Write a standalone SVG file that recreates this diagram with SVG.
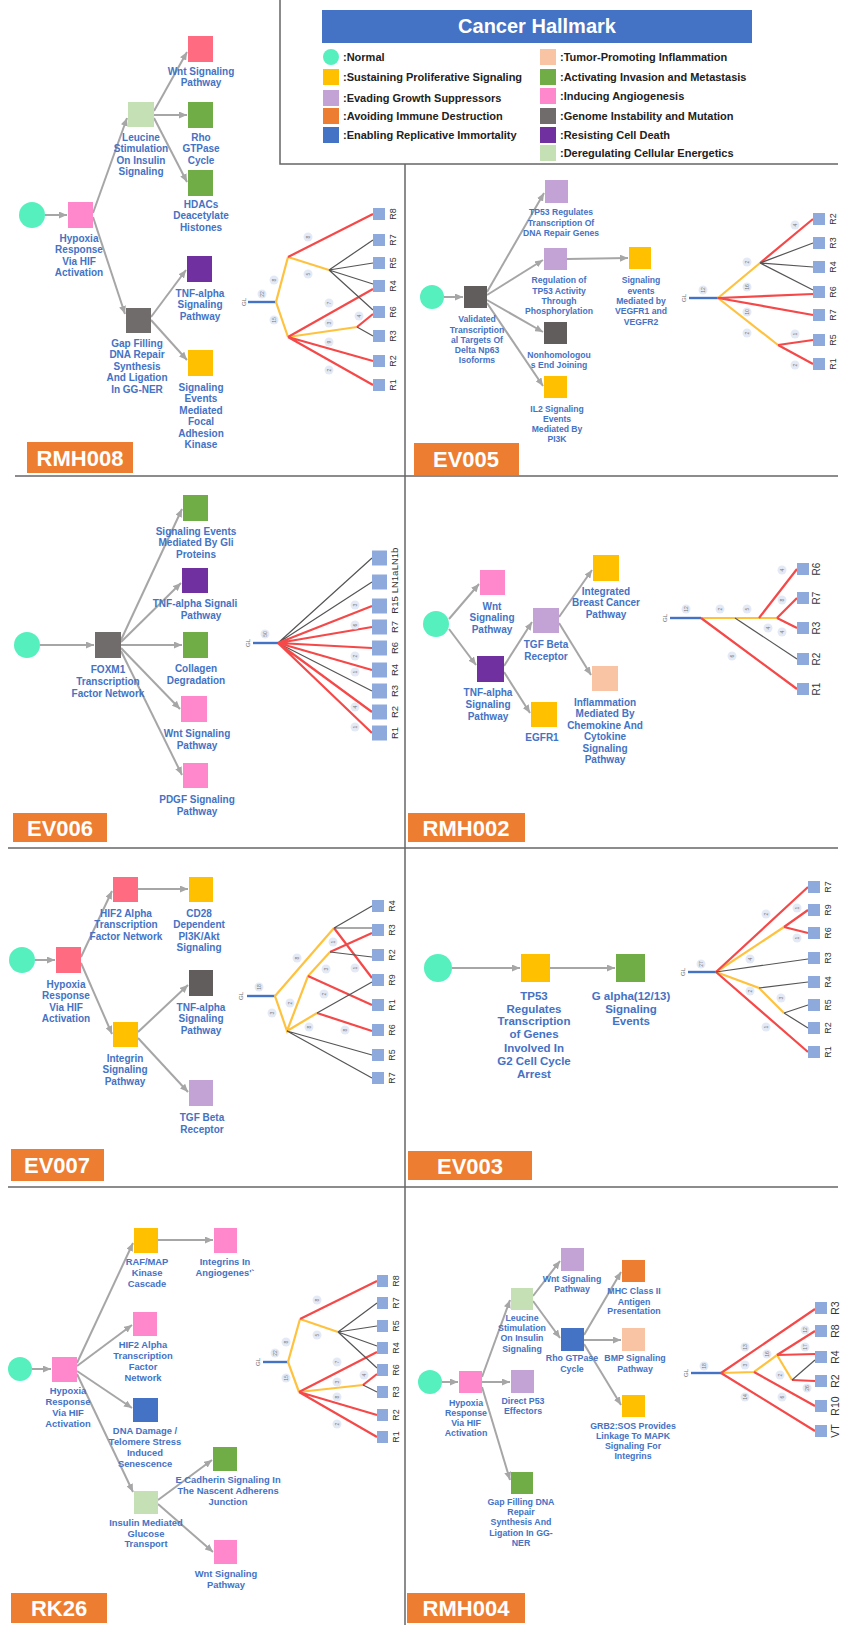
<svg xmlns="http://www.w3.org/2000/svg" width="842" height="1625" viewBox="0 0 842 1625">
<defs>
<marker id="ah" markerUnits="userSpaceOnUse" markerWidth="8" markerHeight="7" refX="8" refY="3.5" orient="auto"><path d="M0,0 L8,3.5 L0,7 z" fill="#A6A6A6"/></marker>
<style>
.frame{stroke:#666;stroke-width:1.5;fill:none}
.e{stroke:#A6A6A6;stroke-width:2;fill:none;marker-end:url(#ah)}
.lb{font-family:"Liberation Sans",Arial,sans-serif;font-weight:bold;fill:#4472C4;text-anchor:middle}
.f10{font-size:10px}.f9{font-size:9.4px}.f85{font-size:8.6px}.f88{font-size:8.8px}.f115{font-size:11.5px}
.tag rect{fill:#ED7D31}
.tag text{font-family:"Liberation Sans",Arial,sans-serif;font-weight:bold;font-size:22px;fill:#fff;text-anchor:middle}
.nrm{fill:#55F0BE}
.ang{fill:#FF88CC}.ang2{fill:#FF6B81}.sps{fill:#FFC000}.egs{fill:#C3A3D6}.aid{fill:#ED7D31}.rep{fill:#4472C4}
.tpi{fill:#F8C4A4}.inv{fill:#70AD47}.gen{fill:#716C6C}.gen2{fill:#625D5D}.rcd{fill:#7030A0}.dce{fill:#C5E0B4}
.r{stroke:#F54848;stroke-width:2.2;fill:none}
.o{stroke:#FFC23F;stroke-width:2.2;fill:none}
.g{stroke:#555;stroke-width:1.2;fill:none}
.bl{stroke:#4472C4;stroke-width:2.4;fill:none}
.bx{fill:#8EA9DB}
.rl{font-family:"Liberation Sans",Arial,sans-serif;font-size:9px;fill:#333;text-anchor:middle}
.gl{font-family:"Liberation Sans",Arial,sans-serif;font-size:6px;fill:#666;text-anchor:middle}
.bub circle{fill:#E3EAF6}
.bub text{font-family:"Liberation Sans",Arial,sans-serif;font-size:5px;fill:#777;text-anchor:middle}
.lg{font-family:"Liberation Sans",Arial,sans-serif;font-weight:bold;font-size:11px;fill:#222}
</style>
</defs>
<rect width="842" height="1625" fill="#fff"/>

<g id="frame">
<path class="frame" d="M280,0 V164 H838"/>
<path class="frame" d="M405,164 V1625"/>
<path class="frame" d="M15,476 H838"/>
<path class="frame" d="M8,848 H838"/>
<path class="frame" d="M8,1187 H838"/>
</g>

<g id="legend">
<rect x="322" y="10" width="430" height="33" fill="#4472C4"/>
<text x="537" y="33" font-family="Liberation Sans, Arial, sans-serif" font-weight="bold" font-size="20" fill="#fff" text-anchor="middle">Cancer Hallmark</text>
<circle class="nrm" cx="331" cy="57" r="8"/>
<rect class="sps" x="323" y="69" width="16" height="16"/>
<rect class="egs" x="323" y="90" width="16" height="16"/>
<rect class="aid" x="323" y="108" width="16" height="16"/>
<rect class="rep" x="323" y="127" width="16" height="16"/>
<text class="lg" x="343" y="61">:Normal</text>
<text class="lg" x="343" y="81">:Sustaining Proliferative Signaling</text>
<text class="lg" x="343" y="102">:Evading Growth Suppressors</text>
<text class="lg" x="343" y="120">:Avoiding Immune Destruction</text>
<text class="lg" x="343" y="139">:Enabling Replicative Immortality</text>
<rect class="tpi" x="540" y="49" width="16" height="16"/>
<rect class="inv" x="540" y="69" width="16" height="16"/>
<rect class="ang" x="540" y="88" width="16" height="16"/>
<rect class="gen" x="540" y="108" width="16" height="16"/>
<rect class="rcd" x="540" y="127" width="16" height="16"/>
<rect class="dce" x="540" y="145" width="16" height="16"/>
<text class="lg" x="560" y="61">:Tumor-Promoting Inflammation</text>
<text class="lg" x="560" y="81">:Activating Invasion and Metastasis</text>
<text class="lg" x="560" y="100">:Inducing Angiogenesis</text>
<text class="lg" x="560" y="120">:Genome Instability and Mutation</text>
<text class="lg" x="560" y="139">:Resisting Cell Death</text>
<text class="lg" x="560" y="157">:Deregulating Cellular Energetics</text>
</g>

<!-- ============ RMH008 ============ -->
<g id="p1">
<g id="p1-edges">
<line class="e" x1="45" y1="215" x2="67" y2="215"/>
<line class="e" x1="93" y1="213" x2="127" y2="118"/>
<line class="e" x1="93" y1="217" x2="125" y2="314"/>
<line class="e" x1="154" y1="111" x2="187" y2="52"/>
<line class="e" x1="154" y1="115" x2="187" y2="115"/>
<line class="e" x1="154" y1="118" x2="187" y2="182"/>
<line class="e" x1="151" y1="317" x2="186" y2="270"/>
<line class="e" x1="151" y1="320" x2="187" y2="360"/>
</g>
<g id="p1-normal"><circle class="nrm" cx="32" cy="215" r="13"/></g>
<g id="p1-hyp"><rect class="ang" x="68" y="202" width="25" height="26"/><text class="lb f10"><tspan x="79" y="241.5">Hypoxia</tspan><tspan x="79" y="253">Response</tspan><tspan x="79" y="264.5">Via HIF</tspan><tspan x="79" y="276">Activation</tspan></text></g>
<g id="p1-leu"><rect class="dce" x="128" y="102" width="26" height="25"/><text class="lb f10"><tspan x="141" y="140.5">Leucine</tspan><tspan x="141" y="152">Stimulation</tspan><tspan x="141" y="163.5">On Insulin</tspan><tspan x="141" y="175">Signaling</tspan></text></g>
<g id="p1-gap"><rect class="gen" x="126" y="308" width="25" height="25"/><text class="lb f10"><tspan x="137" y="346.5">Gap Filling</tspan><tspan x="137" y="358">DNA Repair</tspan><tspan x="137" y="369.5">Synthesis</tspan><tspan x="137" y="381">And Ligation</tspan><tspan x="137" y="392.5">In GG-NER</tspan></text></g>
<g id="p1-wnt"><rect class="ang2" x="188" y="36" width="25" height="26"/><text class="lb f10"><tspan x="201" y="74.5">Wnt Signaling</tspan><tspan x="201" y="86">Pathway</tspan></text></g>
<g id="p1-rho"><rect class="inv" x="188" y="102" width="25" height="26"/><text class="lb f10"><tspan x="201" y="140.5">Rho</tspan><tspan x="201" y="152">GTPase</tspan><tspan x="201" y="163.5">Cycle</tspan></text></g>
<g id="p1-hdac"><rect class="inv" x="188" y="170" width="25" height="26"/><text class="lb f10"><tspan x="201" y="207.5">HDACs</tspan><tspan x="201" y="219">Deacetylate</tspan><tspan x="201" y="230.5">Histones</tspan></text></g>
<g id="p1-tnf"><rect class="rcd" x="187" y="256" width="25" height="26"/><text class="lb f10"><tspan x="200" y="296.5">TNF-alpha</tspan><tspan x="200" y="308">Signaling</tspan><tspan x="200" y="319.5">Pathway</tspan></text></g>
<g id="p1-fak"><rect class="sps" x="188" y="350" width="25" height="26"/><text class="lb f10"><tspan x="201" y="390.5">Signaling</tspan><tspan x="201" y="402">Events</tspan><tspan x="201" y="413.5">Mediated</tspan><tspan x="201" y="425">Focal</tspan><tspan x="201" y="436.5">Adhesion</tspan><tspan x="201" y="448">Kinase</tspan></text></g>
<g id="p1-tag" class="tag"><rect x="27" y="442" width="106" height="31"/><text x="80" y="465.5">RMH008</text></g>
<g id="p1-tree">
<text class="gl" transform="translate(246,302) rotate(-90)">GL</text>
<line class="bl" x1="248" y1="302" x2="276" y2="302"/>
<path class="o" d="M288,257 L276,302 L288,337 M288,257 L329,270 M288,337 L357,327"/>
<path class="r" d="M288,257 L373,214 M288,337 L373,289 M357,327 L373,314 M288,337 L373,361 M288,337 L373,385"/>
<path class="g" d="M329,270 L373,240 M329,270 L373,263 M329,270 L373,284 M329,270 L373,310 M357,327 L373,336"/>
<g class="bx"><rect x="373" y="208" width="12" height="12"/><rect x="373" y="234" width="12" height="12"/><rect x="373" y="257" width="12" height="12"/><rect x="373" y="280" width="12" height="12"/><rect x="373" y="306" width="12" height="12"/><rect x="373" y="330" width="12" height="12"/><rect x="373" y="355" width="12" height="12"/><rect x="373" y="379" width="12" height="12"/></g>
<g class="rl"><text transform="translate(396,214) rotate(-90)">R8</text><text transform="translate(396,240) rotate(-90)">R7</text><text transform="translate(396,263) rotate(-90)">R5</text><text transform="translate(396,286) rotate(-90)">R4</text><text transform="translate(396,312) rotate(-90)">R6</text><text transform="translate(396,336) rotate(-90)">R3</text><text transform="translate(396,361) rotate(-90)">R2</text><text transform="translate(396,385) rotate(-90)">R1</text></g>
<g class="bub">
<circle cx="262" cy="294" r="4.5"/><text transform="translate(264,294) rotate(-90)">22</text>
<circle cx="274" cy="280" r="4.5"/><text transform="translate(276,280) rotate(-90)">8</text>
<circle cx="274" cy="320" r="4.5"/><text transform="translate(276,320) rotate(-90)">15</text>
<circle cx="308" cy="237" r="4.5"/><text transform="translate(310,237) rotate(-90)">8</text>
<circle cx="308" cy="274" r="4.5"/><text transform="translate(310,274) rotate(-90)">5</text>
<circle cx="329" cy="303" r="4.5"/><text transform="translate(331,303) rotate(-90)">7</text>
<circle cx="329" cy="323" r="4.5"/><text transform="translate(331,323) rotate(-90)">3</text>
<circle cx="329" cy="342" r="4.5"/><text transform="translate(331,342) rotate(-90)">9</text>
<circle cx="329" cy="370" r="4.5"/><text transform="translate(331,370) rotate(-90)">2</text>
<circle cx="359" cy="316" r="4.5"/><text transform="translate(361,316) rotate(-90)">4</text>
</g>
</g>
</g>

<!-- ============ EV005 ============ -->
<g id="p2">
<g id="p2-edges">
<line class="e" x1="444" y1="297" x2="463" y2="297"/>
<line class="e" x1="487" y1="292" x2="544" y2="193"/>
<line class="e" x1="487" y1="295" x2="543" y2="260"/>
<line class="e" x1="487" y1="300" x2="543" y2="332"/>
<line class="e" x1="487" y1="303" x2="543" y2="386"/>
<line class="e" x1="567" y1="259" x2="628" y2="258"/>
</g>
<g id="p2-normal"><circle class="nrm" cx="432" cy="297" r="12"/></g>
<g id="p2-val"><rect class="gen2" x="464" y="286" width="23" height="22"/><text class="lb f85"><tspan x="477" y="322">Validated</tspan><tspan x="477" y="332.5">Transcription</tspan><tspan x="477" y="342.5">al Targets Of</tspan><tspan x="477" y="353">Delta Np63</tspan><tspan x="477" y="363">Isoforms</tspan></text></g>
<g id="p2-tp53dna"><rect class="egs" x="545" y="180" width="23" height="23"/><text class="lb f85"><tspan x="561" y="215">TP53 Regulates</tspan><tspan x="561" y="225.5">Transcription Of</tspan><tspan x="561" y="236">DNA Repair Genes</tspan></text></g>
<g id="p2-reg"><rect class="egs" x="544" y="248" width="23" height="22"/><text class="lb f85"><tspan x="559" y="283">Regulation of</tspan><tspan x="559" y="293.5">TP53 Activity</tspan><tspan x="559" y="303.5">Through</tspan><tspan x="559" y="314">Phosphorylation</tspan></text></g>
<g id="p2-vegf"><rect class="sps" x="629" y="247" width="22" height="22"/><text class="lb f85"><tspan x="641" y="283">Signaling</tspan><tspan x="641" y="293.5">events</tspan><tspan x="641" y="303.5">Mediated by</tspan><tspan x="641" y="314">VEGFR1 and</tspan><tspan x="641" y="324.5">VEGFR2</tspan></text></g>
<g id="p2-nhej"><rect class="gen2" x="544" y="322" width="23" height="22"/><text class="lb f85"><tspan x="559" y="358">Nonhomologou</tspan><tspan x="559" y="368">s End Joining</tspan></text></g>
<g id="p2-il2"><rect class="sps" x="544" y="376" width="23" height="22"/><text class="lb f85"><tspan x="557" y="412">IL2 Signaling</tspan><tspan x="557" y="422">Events</tspan><tspan x="557" y="432">Mediated By</tspan><tspan x="557" y="442">PI3K</tspan></text></g>
<g id="p2-tag" class="tag"><rect x="414" y="443" width="105" height="32"/><text x="466" y="467">EV005</text></g>
<g id="p2-tree">
<text class="gl" transform="translate(686,298) rotate(-90)">GL</text>
<line class="bl" x1="689" y1="298" x2="718" y2="298"/>
<path class="o" d="M718,298 L760,263 M718,298 L778,345"/>
<path class="r" d="M718,298 L813,294 M718,298 L813,315 M760,263 L813,219 M778,345 L813,340 M778,345 L813,364"/>
<path class="g" d="M760,263 L813,243 M760,263 L813,267 M760,263 L813,290"/>
<g class="bx"><rect x="813" y="213" width="12" height="12"/><rect x="813" y="237" width="12" height="12"/><rect x="813" y="261" width="12" height="12"/><rect x="813" y="286" width="12" height="12"/><rect x="813" y="309" width="12" height="12"/><rect x="813" y="334" width="12" height="12"/><rect x="813" y="358" width="12" height="12"/></g>
<g class="rl"><text transform="translate(836,219) rotate(-90)">R2</text><text transform="translate(836,243) rotate(-90)">R3</text><text transform="translate(836,267) rotate(-90)">R4</text><text transform="translate(836,292) rotate(-90)">R6</text><text transform="translate(836,315) rotate(-90)">R7</text><text transform="translate(836,340) rotate(-90)">R5</text><text transform="translate(836,364) rotate(-90)">R1</text></g>
<g class="bub">
<circle cx="703" cy="290" r="4.5"/><text transform="translate(705,290) rotate(-90)">12</text>
<circle cx="795" cy="225" r="4.5"/><text transform="translate(797,225) rotate(-90)">4</text>
<circle cx="747" cy="262" r="4.5"/><text transform="translate(749,262) rotate(-90)">2</text>
<circle cx="747" cy="287" r="4.5"/><text transform="translate(749,287) rotate(-90)">16</text>
<circle cx="747" cy="312" r="4.5"/><text transform="translate(749,312) rotate(-90)">10</text>
<circle cx="747" cy="333" r="4.5"/><text transform="translate(749,333) rotate(-90)">2</text>
<circle cx="795" cy="334" r="4.5"/><text transform="translate(797,334) rotate(-90)">1</text>
<circle cx="795" cy="365" r="4.5"/><text transform="translate(797,365) rotate(-90)">2</text>
</g>
</g>
</g>

<!-- ============ EV006 ============ -->
<g id="p3">
<g id="p3-edges">
<line class="e" x1="40" y1="645" x2="94" y2="645"/>
<line class="e" x1="121" y1="640" x2="182" y2="509"/>
<line class="e" x1="121" y1="642" x2="181" y2="583"/>
<line class="e" x1="121" y1="645" x2="182" y2="645"/>
<line class="e" x1="121" y1="648" x2="180" y2="709"/>
<line class="e" x1="121" y1="651" x2="182" y2="775"/>
</g>
<g id="p3-normal"><circle class="nrm" cx="27" cy="645" r="13"/></g>
<g id="p3-foxm1"><rect class="gen" x="95" y="632" width="26" height="26"/><text class="lb f10"><tspan x="108" y="672.5">FOXM1</tspan><tspan x="108" y="684.5">Transcription</tspan><tspan x="108" y="696.5">Factor Network</tspan></text></g>
<g id="p3-gli"><rect class="inv" x="183" y="495" width="25" height="26"/><text class="lb f10"><tspan x="196" y="534.5">Signaling Events</tspan><tspan x="196" y="546">Mediated By Gli</tspan><tspan x="196" y="557.5">Proteins</tspan></text></g>
<g id="p3-tnf"><rect class="rcd" x="182" y="568" width="26" height="25"/><text class="lb f10"><tspan x="195" y="606.5">TNF-alpha Signali</tspan><tspan x="201" y="618.5">Pathway</tspan></text></g>
<g id="p3-coll"><rect class="inv" x="183" y="632" width="25" height="26"/><text class="lb f10"><tspan x="196" y="671.5">Collagen</tspan><tspan x="196" y="683.5">Degradation</tspan></text></g>
<g id="p3-wnt"><rect class="ang" x="181" y="696" width="26" height="26"/><text class="lb f10"><tspan x="197" y="736.5">Wnt Signaling</tspan><tspan x="197" y="748.5">Pathway</tspan></text></g>
<g id="p3-pdgf"><rect class="ang" x="183" y="763" width="25" height="25"/><text class="lb f10"><tspan x="197" y="802.5">PDGF Signaling</tspan><tspan x="197" y="814.5">Pathway</tspan></text></g>
<g id="p3-tag" class="tag"><rect x="13" y="813" width="94" height="29"/><text x="60" y="835.5">EV006</text></g>
<g id="p3-tree">
<text class="gl" transform="translate(250,643) rotate(-90)">GL</text>
<line class="bl" x1="253" y1="643" x2="278" y2="643"/>
<path class="g" d="M278,643 L372,558 M278,643 L372,582 M278,643 L372,691"/>
<path class="r" d="M278,643 L372,606 M278,643 L372,627 M278,643 L372,648 M278,643 L372,670 M278,643 L372,712 M278,643 L372,733"/>
<g class="bx"><rect x="372" y="550.5" width="15" height="15"/><rect x="372" y="574.5" width="15" height="15"/><rect x="372" y="598.5" width="15" height="15"/><rect x="372" y="619.5" width="15" height="15"/><rect x="372" y="640.5" width="15" height="15"/><rect x="372" y="662.5" width="15" height="15"/><rect x="372" y="683.5" width="15" height="15"/><rect x="372" y="704.5" width="15" height="15"/><rect x="372" y="725.5" width="15" height="15"/></g>
<g class="rl" style="font-size:9.5px"><text transform="translate(398,559) rotate(-90)">LN1b</text><text transform="translate(398,582) rotate(-90)">LN1a</text><text transform="translate(398,605) rotate(-90)">R15</text><text transform="translate(398,627) rotate(-90)">R7</text><text transform="translate(398,648) rotate(-90)">R6</text><text transform="translate(398,670) rotate(-90)">R4</text><text transform="translate(398,691) rotate(-90)">R3</text><text transform="translate(398,712) rotate(-90)">R2</text><text transform="translate(398,733) rotate(-90)">R1</text></g>
<g class="bub">
<circle cx="265" cy="634" r="4.5"/><text transform="translate(267,634) rotate(-90)">50</text>
<circle cx="355" cy="605" r="4.5"/><text transform="translate(357,605) rotate(-90)">3</text>
<circle cx="355" cy="625" r="4.5"/><text transform="translate(357,625) rotate(-90)">6</text>
<circle cx="355" cy="656" r="4.5"/><text transform="translate(357,656) rotate(-90)">2</text>
<circle cx="355" cy="672" r="4.5"/><text transform="translate(357,672) rotate(-90)">1</text>
<circle cx="355" cy="707" r="4.5"/><text transform="translate(357,707) rotate(-90)">4</text>
<circle cx="355" cy="727" r="4.5"/><text transform="translate(357,727) rotate(-90)">1</text>
</g>
</g>
</g>

<!-- ============ RMH002 ============ -->
<g id="p4">
<g id="p4-edges">
<line class="e" x1="449" y1="619" x2="479" y2="584"/>
<line class="e" x1="449" y1="629" x2="476" y2="665"/>
<line class="e" x1="504" y1="666" x2="532" y2="622"/>
<line class="e" x1="504" y1="672" x2="530" y2="713"/>
<line class="e" x1="559" y1="617" x2="592" y2="570"/>
<line class="e" x1="559" y1="623" x2="591" y2="675"/>
</g>
<g id="p4-normal"><circle class="nrm" cx="436" cy="624" r="13"/></g>
<g id="p4-wnt"><rect class="ang" x="480" y="570" width="25" height="25"/><text class="lb f10"><tspan x="492" y="609.5">Wnt</tspan><tspan x="492" y="621">Signaling</tspan><tspan x="492" y="632.5">Pathway</tspan></text></g>
<g id="p4-tnf"><rect class="rcd" x="477" y="656" width="27" height="26"/><text class="lb f10"><tspan x="488" y="695.5">TNF-alpha</tspan><tspan x="488" y="707.5">Signaling</tspan><tspan x="488" y="719.5">Pathway</tspan></text></g>
<g id="p4-tgf"><rect class="egs" x="533" y="608" width="26" height="25"/><text class="lb f10"><tspan x="546" y="647.5">TGF Beta</tspan><tspan x="546" y="659.5">Receptor</tspan></text></g>
<g id="p4-egfr"><rect class="sps" x="531" y="702" width="26" height="25"/><text class="lb f10"><tspan x="542" y="740.5">EGFR1</tspan></text></g>
<g id="p4-ibc"><rect class="sps" x="593" y="555" width="26" height="26"/><text class="lb f10"><tspan x="606" y="594.5">Integrated</tspan><tspan x="606" y="606">Breast Cancer</tspan><tspan x="606" y="617.5">Pathway</tspan></text></g>
<g id="p4-infl"><rect class="tpi" x="592" y="666" width="26" height="25"/><text class="lb f10"><tspan x="605" y="705.5">Inflammation</tspan><tspan x="605" y="717">Mediated By</tspan><tspan x="605" y="728.5">Chemokine And</tspan><tspan x="605" y="740">Cytokine</tspan><tspan x="605" y="751.5">Signaling</tspan><tspan x="605" y="763">Pathway</tspan></text></g>
<g id="p4-tag" class="tag"><rect x="408" y="813" width="117" height="29"/><text x="466" y="835.5">RMH002</text></g>
<g id="p4-tree">
<text class="gl" transform="translate(667,618) rotate(-90)">GL</text>
<line class="bl" x1="670" y1="618" x2="701" y2="618"/>
<path class="o" d="M701,618 L777,618"/>
<path class="r" d="M701,618 L797,689 M759,618 L797,569 M777,618 L797,598 M777,618 L797,628"/>
<path class="g" d="M735,618 L797,659"/>
<g class="bx"><rect x="797" y="563" width="12" height="12"/><rect x="797" y="592" width="12" height="12"/><rect x="797" y="622" width="12" height="12"/><rect x="797" y="653" width="12" height="12"/><rect x="797" y="683" width="12" height="12"/></g>
<g class="rl" style="font-size:10px"><text transform="translate(820,569) rotate(-90)">R6</text><text transform="translate(820,598) rotate(-90)">R7</text><text transform="translate(820,628) rotate(-90)">R3</text><text transform="translate(820,659) rotate(-90)">R2</text><text transform="translate(820,689) rotate(-90)">R1</text></g>
<g class="bub">
<circle cx="686" cy="609" r="4.5"/><text transform="translate(688,609) rotate(-90)">12</text>
<circle cx="720" cy="609" r="4.5"/><text transform="translate(722,609) rotate(-90)">2</text>
<circle cx="747" cy="609" r="4.5"/><text transform="translate(749,609) rotate(-90)">5</text>
<circle cx="732" cy="656" r="4.5"/><text transform="translate(734,656) rotate(-90)">6</text>
<circle cx="782" cy="570" r="4.5"/><text transform="translate(784,570) rotate(-90)">4</text>
<circle cx="782" cy="600" r="4.5"/><text transform="translate(784,600) rotate(-90)">8</text>
<circle cx="768" cy="628" r="4.5"/><text transform="translate(770,628) rotate(-90)">4</text>
<circle cx="782" cy="632" r="4.5"/><text transform="translate(784,632) rotate(-90)">4</text>
</g>
</g>
</g>

<!-- ============ EV007 ============ -->
<g id="p5">
<g id="p5-edges">
<line class="e" x1="35" y1="960" x2="55" y2="960"/>
<line class="e" x1="81" y1="957" x2="112" y2="891"/>
<line class="e" x1="81" y1="963" x2="112" y2="1034"/>
<line class="e" x1="138" y1="889" x2="188" y2="889"/>
<line class="e" x1="138" y1="1032" x2="188" y2="985"/>
<line class="e" x1="138" y1="1038" x2="188" y2="1092"/>
</g>
<g id="p5-normal"><circle class="nrm" cx="22" cy="960" r="13"/></g>
<g id="p5-hyp"><rect class="ang2" x="56" y="947" width="25" height="26"/><text class="lb f10"><tspan x="66" y="987.5">Hypoxia</tspan><tspan x="66" y="999">Response</tspan><tspan x="66" y="1010.5">Via HIF</tspan><tspan x="66" y="1022">Activation</tspan></text></g>
<g id="p5-hif2"><rect class="ang2" x="113" y="877" width="25" height="25"/><text class="lb f10"><tspan x="126" y="916.5">HIF2 Alpha</tspan><tspan x="126" y="928">Transcription</tspan><tspan x="126" y="939.5">Factor Network</tspan></text></g>
<g id="p5-cd28"><rect class="sps" x="189" y="877" width="24" height="25"/><text class="lb f10"><tspan x="199" y="916.5">CD28</tspan><tspan x="199" y="928">Dependent</tspan><tspan x="199" y="939.5">PI3K/Akt</tspan><tspan x="199" y="951">Signaling</tspan></text></g>
<g id="p5-integ"><rect class="sps" x="113" y="1022" width="25" height="25"/><text class="lb f10"><tspan x="125" y="1061.5">Integrin</tspan><tspan x="125" y="1073">Signaling</tspan><tspan x="125" y="1084.5">Pathway</tspan></text></g>
<g id="p5-tnf"><rect class="gen2" x="189" y="970" width="24" height="26"/><text class="lb f10"><tspan x="201" y="1010.5">TNF-alpha</tspan><tspan x="201" y="1022">Signaling</tspan><tspan x="201" y="1033.5">Pathway</tspan></text></g>
<g id="p5-tgf"><rect class="egs" x="189" y="1080" width="24" height="26"/><text class="lb f10"><tspan x="202" y="1120.5">TGF Beta</tspan><tspan x="202" y="1132.5">Receptor</tspan></text></g>
<g id="p5-tag" class="tag"><rect x="11" y="1149" width="93" height="32"/><text x="57" y="1173">EV007</text></g>
<g id="p5-tree">
<text class="gl" transform="translate(243,996) rotate(-90)">GL</text>
<line class="bl" x1="247" y1="996" x2="275" y2="996"/>
<path class="o" d="M334,928 L275,996 L287,1031 L308,976 L330,952 M287,1031 L317,1013"/>
<path class="r" d="M334,928 L372,978 M308,976 L372,1005 M330,952 L372,933 M317,1013 L372,1031"/>
<path class="g" d="M334,928 L372,906 M334,928 L372,928 M287,1031 L372,1055 M287,1031 L372,1078 M330,952 L372,957 M317,1013 L372,982"/>
<g class="bx"><rect x="372" y="900" width="12" height="12"/><rect x="372" y="924" width="12" height="12"/><rect x="372" y="949" width="12" height="12"/><rect x="372" y="974" width="12" height="12"/><rect x="372" y="999" width="12" height="12"/><rect x="372" y="1024" width="12" height="12"/><rect x="372" y="1049" width="12" height="12"/><rect x="372" y="1072" width="12" height="12"/></g>
<g class="rl"><text transform="translate(395,906) rotate(-90)">R4</text><text transform="translate(395,930) rotate(-90)">R3</text><text transform="translate(395,955) rotate(-90)">R2</text><text transform="translate(395,980) rotate(-90)">R9</text><text transform="translate(395,1005) rotate(-90)">R1</text><text transform="translate(395,1030) rotate(-90)">R6</text><text transform="translate(395,1055) rotate(-90)">R5</text><text transform="translate(395,1078) rotate(-90)">R7</text></g>
<g class="bub">
<circle cx="259" cy="987" r="4.5"/><text transform="translate(261,987) rotate(-90)">18</text>
<circle cx="297" cy="958" r="4.5"/><text transform="translate(299,958) rotate(-90)">8</text>
<circle cx="333" cy="942" r="4.5"/><text transform="translate(335,942) rotate(-90)">1</text>
<circle cx="326" cy="969" r="4.5"/><text transform="translate(328,969) rotate(-90)">3</text>
<circle cx="355" cy="968" r="4.5"/><text transform="translate(357,968) rotate(-90)">1</text>
<circle cx="290" cy="1003" r="4.5"/><text transform="translate(292,1003) rotate(-90)">2</text>
<circle cx="272" cy="1013" r="4.5"/><text transform="translate(274,1013) rotate(-90)">3</text>
<circle cx="324" cy="994" r="4.5"/><text transform="translate(326,994) rotate(-90)">2</text>
<circle cx="309" cy="1027" r="4.5"/><text transform="translate(311,1027) rotate(-90)">8</text>
<circle cx="345" cy="1030" r="4.5"/><text transform="translate(347,1030) rotate(-90)">8</text>
</g>
</g>
</g>

<!-- ============ EV003 ============ -->
<g id="p6">
<g id="p6-edges">
<line class="e" x1="452" y1="968" x2="520" y2="968"/>
<line class="e" x1="550" y1="968" x2="615" y2="968"/>
</g>
<g id="p6-normal"><circle class="nrm" cx="438" cy="968" r="14"/></g>
<g id="p6-tp53"><rect class="sps" x="521" y="954" width="29" height="28"/><text class="lb f115"><tspan x="534" y="1000">TP53</tspan><tspan x="534" y="1013">Regulates</tspan><tspan x="534" y="1025">Transcription</tspan><tspan x="534" y="1038">of Genes</tspan><tspan x="534" y="1052">Involved In</tspan><tspan x="534" y="1065">G2 Cell Cycle</tspan><tspan x="534" y="1078">Arrest</tspan></text></g>
<g id="p6-galpha"><rect class="inv" x="616" y="954" width="29" height="28"/><text class="lb f115"><tspan x="631" y="1000">G alpha(12/13)</tspan><tspan x="631" y="1013">Signaling</tspan><tspan x="631" y="1025">Events</tspan></text></g>
<g id="p6-tag" class="tag"><rect x="408" y="1151" width="124" height="29"/><text x="470" y="1173.5">EV003</text></g>
<g id="p6-tree">
<text class="gl" transform="translate(685,972) rotate(-90)">GL</text>
<line class="bl" x1="688" y1="972" x2="716" y2="972"/>
<path class="o" d="M716,972 L784,927 M716,972 L759,988 L784,1013"/>
<path class="r" d="M716,972 L808,887 M716,972 L808,1052 M784,927 L808,910 M784,927 L808,933"/>
<path class="g" d="M716,972 L808,959 M759,988 L808,982 M784,1013 L808,1005 M784,1013 L808,1028"/>
<g class="bx"><rect x="808" y="881" width="12" height="12"/><rect x="808" y="904" width="12" height="12"/><rect x="808" y="927" width="12" height="12"/><rect x="808" y="952" width="12" height="12"/><rect x="808" y="976" width="12" height="12"/><rect x="808" y="999" width="12" height="12"/><rect x="808" y="1022" width="12" height="12"/><rect x="808" y="1046" width="12" height="12"/></g>
<g class="rl"><text transform="translate(831,887) rotate(-90)">R7</text><text transform="translate(831,910) rotate(-90)">R9</text><text transform="translate(831,933) rotate(-90)">R6</text><text transform="translate(831,958) rotate(-90)">R3</text><text transform="translate(831,982) rotate(-90)">R4</text><text transform="translate(831,1005) rotate(-90)">R5</text><text transform="translate(831,1028) rotate(-90)">R2</text><text transform="translate(831,1052) rotate(-90)">R1</text></g>
<g class="bub">
<circle cx="701" cy="964" r="4.5"/><text transform="translate(703,964) rotate(-90)">27</text>
<circle cx="766" cy="914" r="4.5"/><text transform="translate(768,914) rotate(-90)">2</text>
<circle cx="797" cy="908" r="4.5"/><text transform="translate(799,908) rotate(-90)">1</text>
<circle cx="797" cy="938" r="4.5"/><text transform="translate(799,938) rotate(-90)">1</text>
<circle cx="750" cy="959" r="4.5"/><text transform="translate(752,959) rotate(-90)">4</text>
<circle cx="750" cy="991" r="4.5"/><text transform="translate(752,991) rotate(-90)">2</text>
<circle cx="781" cy="998" r="4.5"/><text transform="translate(783,998) rotate(-90)">3</text>
<circle cx="766" cy="1027" r="4.5"/><text transform="translate(768,1027) rotate(-90)">1</text>
</g>
</g>
</g>

<!-- ============ RK26 ============ -->
<g id="p7">
<g id="p7-edges">
<line class="e" x1="32" y1="1369" x2="51" y2="1369"/>
<line class="e" x1="77" y1="1363" x2="133" y2="1243"/>
<line class="e" x1="77" y1="1366" x2="132" y2="1325"/>
<line class="e" x1="77" y1="1371" x2="132" y2="1408"/>
<line class="e" x1="77" y1="1374" x2="133" y2="1492"/>
<line class="e" x1="158" y1="1240" x2="213" y2="1240"/>
<line class="e" x1="158" y1="1500" x2="212" y2="1460"/>
<line class="e" x1="158" y1="1504" x2="213" y2="1552"/>
</g>
<g id="p7-normal"><circle class="nrm" cx="20" cy="1369" r="12"/></g>
<g id="p7-hyp"><rect class="ang" x="52" y="1357" width="25" height="25"/><text class="lb f9"><tspan x="68" y="1393.5">Hypoxia</tspan><tspan x="68" y="1404.5">Response</tspan><tspan x="68" y="1415.5">Via HIF</tspan><tspan x="68" y="1426.5">Activation</tspan></text></g>
<g id="p7-raf"><rect class="sps" x="134" y="1228" width="24" height="25"/><text class="lb f9"><tspan x="147" y="1264.5">RAF/MAP</tspan><tspan x="147" y="1276">Kinase</tspan><tspan x="147" y="1286.5">Cascade</tspan></text></g>
<g id="p7-integ"><rect class="ang" x="214" y="1228" width="23" height="25"/><text class="lb f9"><tspan x="225" y="1264.5">Integrins In</tspan><tspan x="225" y="1275.5">Angiogenes'`</tspan></text></g>
<g id="p7-hif2"><rect class="ang" x="133" y="1312" width="24" height="24"/><text class="lb f9"><tspan x="143" y="1347.5">HIF2 Alpha</tspan><tspan x="143" y="1358.5">Transcription</tspan><tspan x="143" y="1369.5">Factor</tspan><tspan x="143" y="1380.5">Network</tspan></text></g>
<g id="p7-dna"><rect class="rep" x="133" y="1398" width="25" height="24"/><text class="lb f9"><tspan x="145" y="1433.5">DNA Damage /</tspan><tspan x="145" y="1445">Telomere Stress</tspan><tspan x="145" y="1455.5">Induced</tspan><tspan x="145" y="1466.5">Senescence</tspan></text></g>
<g id="p7-ecad"><rect class="inv" x="213" y="1447" width="24" height="24"/><text class="lb f9"><tspan x="228" y="1482.5">E Cadherin Signaling In</tspan><tspan x="228" y="1493.5">The Nascent Adherens</tspan><tspan x="228" y="1504.5">Junction</tspan></text></g>
<g id="p7-ins"><rect class="dce" x="134" y="1491" width="24" height="23"/><text class="lb f9"><tspan x="146" y="1525.5">Insulin Mediated</tspan><tspan x="146" y="1536.5">Glucose</tspan><tspan x="146" y="1546.5">Transport</tspan></text></g>
<g id="p7-wnt"><rect class="ang" x="214" y="1540" width="23" height="24"/><text class="lb f9"><tspan x="226" y="1576.5">Wnt Signaling</tspan><tspan x="226" y="1587.5">Pathway</tspan></text></g>
<g id="p7-tag" class="tag"><rect x="11" y="1593" width="96" height="30"/><text x="59" y="1616">RK26</text></g>
<g id="p7-tree">
<text class="gl" transform="translate(260,1362) rotate(-90)">GL</text>
<line class="bl" x1="263" y1="1362" x2="288" y2="1362"/>
<path class="o" d="M300,1319 L288,1362 L299,1392 M300,1319 L338,1332 M299,1392 L363,1385"/>
<path class="r" d="M300,1319 L377,1281 M299,1392 L377,1352 M299,1392 L377,1415 M299,1392 L377,1437 M363,1385 L377,1374"/>
<path class="g" d="M338,1332 L377,1303 M338,1332 L377,1326 M338,1332 L377,1346 M338,1332 L377,1368 M363,1385 L377,1392"/>
<g class="bx"><rect x="377" y="1275" width="11" height="12"/><rect x="377" y="1297" width="11" height="12"/><rect x="377" y="1320" width="11" height="12"/><rect x="377" y="1342" width="11" height="12"/><rect x="377" y="1364" width="11" height="12"/><rect x="377" y="1386" width="11" height="12"/><rect x="377" y="1409" width="11" height="12"/><rect x="377" y="1431" width="11" height="12"/></g>
<g class="rl"><text transform="translate(399,1281) rotate(-90)">R8</text><text transform="translate(399,1303) rotate(-90)">R7</text><text transform="translate(399,1326) rotate(-90)">R5</text><text transform="translate(399,1348) rotate(-90)">R4</text><text transform="translate(399,1370) rotate(-90)">R6</text><text transform="translate(399,1392) rotate(-90)">R3</text><text transform="translate(399,1415) rotate(-90)">R2</text><text transform="translate(399,1437) rotate(-90)">R1</text></g>
<g class="bub">
<circle cx="275" cy="1353" r="4.5"/><text transform="translate(277,1353) rotate(-90)">22</text>
<circle cx="317" cy="1300" r="4.5"/><text transform="translate(319,1300) rotate(-90)">8</text>
<circle cx="317" cy="1335" r="4.5"/><text transform="translate(319,1335) rotate(-90)">5</text>
<circle cx="286" cy="1342" r="4.5"/><text transform="translate(288,1342) rotate(-90)">8</text>
<circle cx="286" cy="1378" r="4.5"/><text transform="translate(288,1378) rotate(-90)">15</text>
<circle cx="337" cy="1362" r="4.5"/><text transform="translate(339,1362) rotate(-90)">7</text>
<circle cx="337" cy="1382" r="4.5"/><text transform="translate(339,1382) rotate(-90)">3</text>
<circle cx="337" cy="1397" r="4.5"/><text transform="translate(339,1397) rotate(-90)">8</text>
<circle cx="337" cy="1424" r="4.5"/><text transform="translate(339,1424) rotate(-90)">2</text>
<circle cx="364" cy="1375" r="4.5"/><text transform="translate(366,1375) rotate(-90)">4</text>
</g>
</g>
</g>

<!-- ============ RMH004 ============ -->
<g id="p8">
<g id="p8-edges">
<line class="e" x1="442" y1="1382" x2="458" y2="1382"/>
<line class="e" x1="482" y1="1377" x2="510" y2="1300"/>
<line class="e" x1="482" y1="1382" x2="510" y2="1382"/>
<line class="e" x1="482" y1="1387" x2="510" y2="1480"/>
<line class="e" x1="533" y1="1296" x2="560" y2="1261"/>
<line class="e" x1="533" y1="1301" x2="560" y2="1338"/>
<line class="e" x1="584" y1="1335" x2="621" y2="1272"/>
<line class="e" x1="584" y1="1340" x2="621" y2="1340"/>
<line class="e" x1="584" y1="1344" x2="621" y2="1405"/>
</g>
<g id="p8-normal"><circle class="nrm" cx="430" cy="1382" r="12"/></g>
<g id="p8-hyp"><rect class="ang" x="459" y="1371" width="23" height="22"/><text class="lb f88"><tspan x="466" y="1406">Hypoxia</tspan><tspan x="466" y="1416">Response</tspan><tspan x="466" y="1426">Via HIF</tspan><tspan x="466" y="1436">Activation</tspan></text></g>
<g id="p8-leu"><rect class="dce" x="511" y="1288" width="22" height="22"/><text class="lb f88"><tspan x="522" y="1321">Leucine</tspan><tspan x="522" y="1331">Stimulation</tspan><tspan x="522" y="1341">On Insulin</tspan><tspan x="522" y="1352">Signaling</tspan></text></g>
<g id="p8-dp53"><rect class="egs" x="511" y="1370" width="23" height="23"/><text class="lb f88"><tspan x="523" y="1404">Direct P53</tspan><tspan x="523" y="1414">Effectors</tspan></text></g>
<g id="p8-gap"><rect class="inv" x="511" y="1472" width="22" height="22"/><text class="lb f88"><tspan x="521" y="1505">Gap Filling DNA</tspan><tspan x="521" y="1515">Repair</tspan><tspan x="521" y="1525">Synthesis And</tspan><tspan x="521" y="1536">Ligation In GG-</tspan><tspan x="521" y="1546">NER</tspan></text></g>
<g id="p8-wnt"><rect class="egs" x="561" y="1248" width="23" height="23"/><text class="lb f88"><tspan x="572" y="1282">Wnt Signaling</tspan><tspan x="572" y="1292">Pathway</tspan></text></g>
<g id="p8-rho"><rect class="rep" x="561" y="1328" width="23" height="23"/><text class="lb f88"><tspan x="572" y="1361">Rho GTPase</tspan><tspan x="572" y="1372">Cycle</tspan></text></g>
<g id="p8-mhc"><rect class="aid" x="622" y="1260" width="23" height="22"/><text class="lb f88"><tspan x="634" y="1294">MHC Class II</tspan><tspan x="634" y="1305">Antigen</tspan><tspan x="634" y="1314">Presentation</tspan></text></g>
<g id="p8-bmp"><rect class="tpi" x="622" y="1328" width="23" height="23"/><text class="lb f88"><tspan x="635" y="1361">BMP Signaling</tspan><tspan x="635" y="1372">Pathway</tspan></text></g>
<g id="p8-grb2"><rect class="sps" x="622" y="1395" width="23" height="22"/><text class="lb f88"><tspan x="633" y="1429">GRB2:SOS Provides</tspan><tspan x="633" y="1439">Linkage To MAPK</tspan><tspan x="633" y="1449">Signaling For</tspan><tspan x="633" y="1459">Integrins</tspan></text></g>
<g id="p8-tag" class="tag"><rect x="407" y="1593" width="118" height="30"/><text x="466" y="1616">RMH004</text></g>
<g id="p8-tree">
<text class="gl" transform="translate(688,1373) rotate(-90)">GL</text>
<line class="bl" x1="691" y1="1373" x2="721" y2="1373"/>
<path class="o" d="M721,1373 L754,1372 L777,1355 L792,1380"/>
<path class="r" d="M721,1373 L815,1309 M721,1373 L815,1431 M754,1372 L815,1406 M777,1355 L815,1331 M777,1355 L815,1354 M792,1380 L815,1381"/>
<path class="g" d="M792,1380 L815,1360"/>
<g class="bx"><rect x="815" y="1302" width="12" height="12"/><rect x="815" y="1325" width="12" height="12"/><rect x="815" y="1351" width="12" height="12"/><rect x="815" y="1375" width="12" height="12"/><rect x="815" y="1400" width="12" height="12"/><rect x="815" y="1425" width="12" height="12"/></g>
<g class="rl" style="font-size:10.5px"><text transform="translate(839,1308) rotate(-90)">R3</text><text transform="translate(839,1331) rotate(-90)">R8</text><text transform="translate(839,1357) rotate(-90)">R4</text><text transform="translate(839,1381) rotate(-90)">R2</text><text transform="translate(839,1406) rotate(-90)">R10</text><text transform="translate(839,1431) rotate(-90)">VT</text></g>
<g class="bub">
<circle cx="704" cy="1366" r="4.5"/><text transform="translate(706,1366) rotate(-90)">18</text>
<circle cx="745" cy="1347" r="4.5"/><text transform="translate(747,1347) rotate(-90)">13</text>
<circle cx="745" cy="1365" r="4.5"/><text transform="translate(747,1365) rotate(-90)">3</text>
<circle cx="745" cy="1397" r="4.5"/><text transform="translate(747,1397) rotate(-90)">14</text>
<circle cx="767" cy="1354" r="4.5"/><text transform="translate(769,1354) rotate(-90)">16</text>
<circle cx="780" cy="1375" r="4.5"/><text transform="translate(782,1375) rotate(-90)">2</text>
<circle cx="782" cy="1397" r="4.5"/><text transform="translate(784,1397) rotate(-90)">6</text>
<circle cx="805" cy="1330" r="4.5"/><text transform="translate(807,1330) rotate(-90)">12</text>
<circle cx="805" cy="1347" r="4.5"/><text transform="translate(807,1347) rotate(-90)">17</text>
<circle cx="807" cy="1388" r="4.5"/><text transform="translate(809,1388) rotate(-90)">26</text>
</g>
</g>
</g>
</svg>
